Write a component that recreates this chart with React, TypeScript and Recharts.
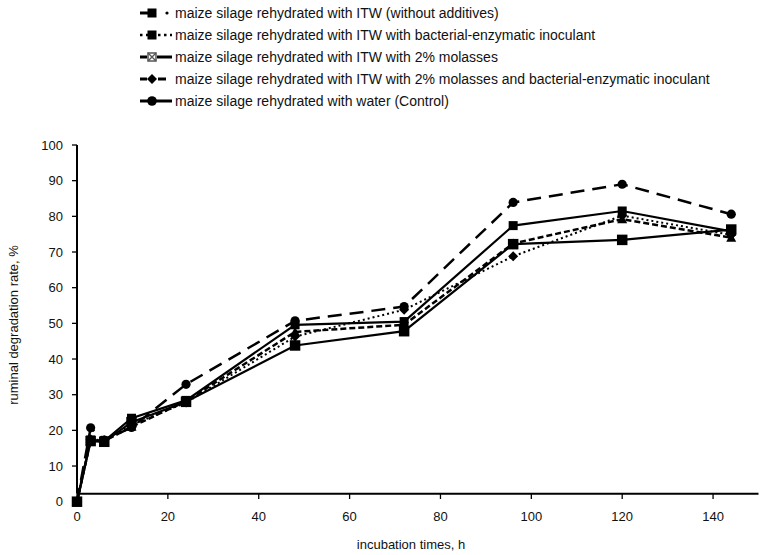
import { LineChart, Line, XAxis, YAxis, Legend, ReferenceLine } from 'recharts';

// incubation time points, h
const hours = [0, 3, 6, 12, 24, 48, 72, 96, 120, 144];

// ruminal degradation rate, %
const itwPlain = [0, 17.0, 16.8, 22.3, 28.0, 43.8, 47.8, 72.2, 73.4, 76.3];
const itwInoc = [0, 17.5, 17.2, 21.5, 27.8, 46.3, 53.8, 68.8, 80.2, 74.8];
const itwMol = [0, 20.7, 17.3, 20.8, 32.9, 50.7, 54.7, 83.9, 89.0, 80.6];
const itwMolInoc = [0, 17.2, 17.0, 21.0, 28.2, 47.6, 49.6, 72.4, 79.2, 74.0];
const water = [0, 17.3, 17.0, 23.4, 28.4, 49.6, 50.5, 77.4, 81.5, 75.8];

const xTicks = [0, 20, 40, 60, 80, 100, 120, 140];
const yTicks = [0, 10, 20, 30, 40, 50, 60, 70, 80, 90, 100];

const legendNames = [
  'maize silage rehydrated with ITW (without additives)',
  'maize silage rehydrated with ITW with bacterial-enzymatic inoculant',
  'maize silage rehydrated with ITW with 2% molasses',
  'maize silage rehydrated with ITW with 2% molasses and bacterial-enzymatic inoculant',
  'maize silage rehydrated with water (Control)',
];

const rows = hours.map((h, i) => ({
  h,
  itwPlain: itwPlain[i],
  itwInoc: itwInoc[i],
  itwMol: itwMol[i],
  itwMolInoc: itwMolInoc[i],
  water: water[i],
}));

const FONT = '"Liberation Sans", Arial, sans-serif';

const makeSquare = (s: number) => (p: any) =>
  p.cx == null ? null : <rect key={p.index} x={p.cx - s / 2} y={p.cy - s / 2} width={s} height={s} fill="#000" />;
const circleDot = (p: any) =>
  p.cx == null ? null : <circle key={p.index} cx={p.cx} cy={p.cy} r={4.6} fill="#000" />;
const diamondDot = (p: any) =>
  p.cx == null ? null : (
    <path key={p.index} d={`M${p.cx},${p.cy - 5}L${p.cx + 5},${p.cy}L${p.cx},${p.cy + 5}L${p.cx - 5},${p.cy}Z`} fill="#000" />
  );
const triangleDot = (p: any) =>
  p.cx == null ? null : (
    <path key={p.index} d={`M${p.cx},${p.cy - 5}L${p.cx + 5},${p.cy + 4}L${p.cx - 5},${p.cy + 4}Z`} fill="#000" />
  );

function XTick({ x, payload }: any) {
  return (
    <g>
      <line x1={x} x2={x} y1={494} y2={499} stroke="#000" strokeWidth={1.3} />
      <text x={x} y={521} textAnchor="middle" fontFamily={FONT} fontSize={13} fill="#111">
        {payload.value}
      </text>
    </g>
  );
}

function LegendBox() {
  const ys = [13, 35, 57, 79, 101];
  const tx = 175;
  return (
    <svg width={778} height={115} style={{ display: 'block' }}>
      {/* row 1 */}
      <line x1={140} x2={150} y1={ys[0]} y2={ys[0]} stroke="#000" strokeWidth={3} />
      <rect x={147.5} y={ys[0] - 4.5} width={9} height={9} fill="#000" />
      <circle cx={167} cy={ys[0]} r={1.6} fill="#000" />
      {/* row 2 */}
      <line x1={140} x2={172} y1={ys[1]} y2={ys[1]} stroke="#000" strokeWidth={2.5} strokeDasharray="2.5 3.5" />
      <rect x={147.5} y={ys[1] - 4.5} width={9} height={9} fill="#000" />
      {/* row 3 */}
      <line x1={140} x2={147} y1={ys[2]} y2={ys[2]} stroke="#000" strokeWidth={3} />
      <line x1={157} x2={172} y1={ys[2]} y2={ys[2]} stroke="#000" strokeWidth={3} />
      <rect x={148} y={ys[2] - 4} width={8} height={8} fill="#fff" stroke="#555" strokeWidth={1.5} />
      <path d={`M148,${ys[2] - 4}L156,${ys[2] + 4}M156,${ys[2] - 4}L148,${ys[2] + 4}`} stroke="#555" strokeWidth={1.3} />
      {/* row 4 */}
      <line x1={140} x2={147} y1={ys[3]} y2={ys[3]} stroke="#000" strokeWidth={3} />
      <line x1={158} x2={166} y1={ys[3]} y2={ys[3]} stroke="#000" strokeWidth={3} />
      <path d={`M152,${ys[3] - 5}L157,${ys[3]}L152,${ys[3] + 5}L147,${ys[3]}Z`} fill="#000" />
      {/* row 5 */}
      <line x1={140} x2={172} y1={ys[4]} y2={ys[4]} stroke="#000" strokeWidth={3} />
      <circle cx={152} cy={ys[4]} r={4.8} fill="#000" />
      {legendNames.map((n, i) => (
        <text key={n} x={tx} y={ys[i] + 5} fontFamily={FONT} fontSize={14} fill="#111">
          {n}
        </text>
      ))}
    </svg>
  );
}

export default function App() {
  return (
    <div style={{ width: 778, height: 555, background: '#fff' }}>
      <style>{'body{margin:0}'}</style>
      <LineChart width={778} height={555} data={rows} margin={{ top: 145, right: 19.5, bottom: 23.3, left: 0 }}>
        <XAxis
          dataKey="h"
          type="number"
          domain={[0, 150]}
          ticks={xTicks}
          axisLine={false}
          tickLine={false}
          tickSize={0}
          tick={<XTick />}
          height={30}
        />
        <YAxis
          type="number"
          domain={[0, 100]}
          ticks={yTicks}
          width={77}
          axisLine={false}
          tickSize={5}
          tickMargin={9}
          tickLine={{ stroke: '#000', strokeWidth: 1.3 }}
          tick={{ fontFamily: FONT, fontSize: 13, fill: '#111' }}
        />
        <ReferenceLine y={2.2} stroke="#000" strokeWidth={2} />
        <ReferenceLine segment={[{ x: 0, y: 2.2 }, { x: 0, y: 100 }]} stroke="#000" strokeWidth={2} />
        <Legend
          layout="vertical"
          verticalAlign="middle"
          align="center"
          content={() => <LegendBox />}
          wrapperStyle={{ top: 0, left: 0, width: 778, height: 115 }}
        />
        <Line dataKey="itwMol" name={legendNames[2]} stroke="#000" strokeWidth={2.5} strokeDasharray="14 8" dot={circleDot} isAnimationActive={false} />
        <Line dataKey="itwInoc" name={legendNames[1]} stroke="#000" strokeWidth={2} strokeDasharray="2 3" dot={diamondDot} isAnimationActive={false} />
        <Line dataKey="itwMolInoc" name={legendNames[3]} stroke="#000" strokeWidth={2.5} strokeDasharray="6 3" dot={triangleDot} isAnimationActive={false} />
        <Line dataKey="water" name={legendNames[4]} stroke="#000" strokeWidth={2.2} dot={makeSquare(9)} isAnimationActive={false} />
        <Line dataKey="itwPlain" name={legendNames[0]} stroke="#000" strokeWidth={2.2} dot={makeSquare(10.5)} isAnimationActive={false} />
        <text x={18} y={325} transform="rotate(-90 18 325)" textAnchor="middle" fontFamily={FONT} fontSize={13} fill="#111">
          ruminal degradation rate, %
        </text>
        <text x={411} y={549} textAnchor="middle" fontFamily={FONT} fontSize={13} fill="#111">
          incubation times, h
        </text>
      </LineChart>
    </div>
  );
}
